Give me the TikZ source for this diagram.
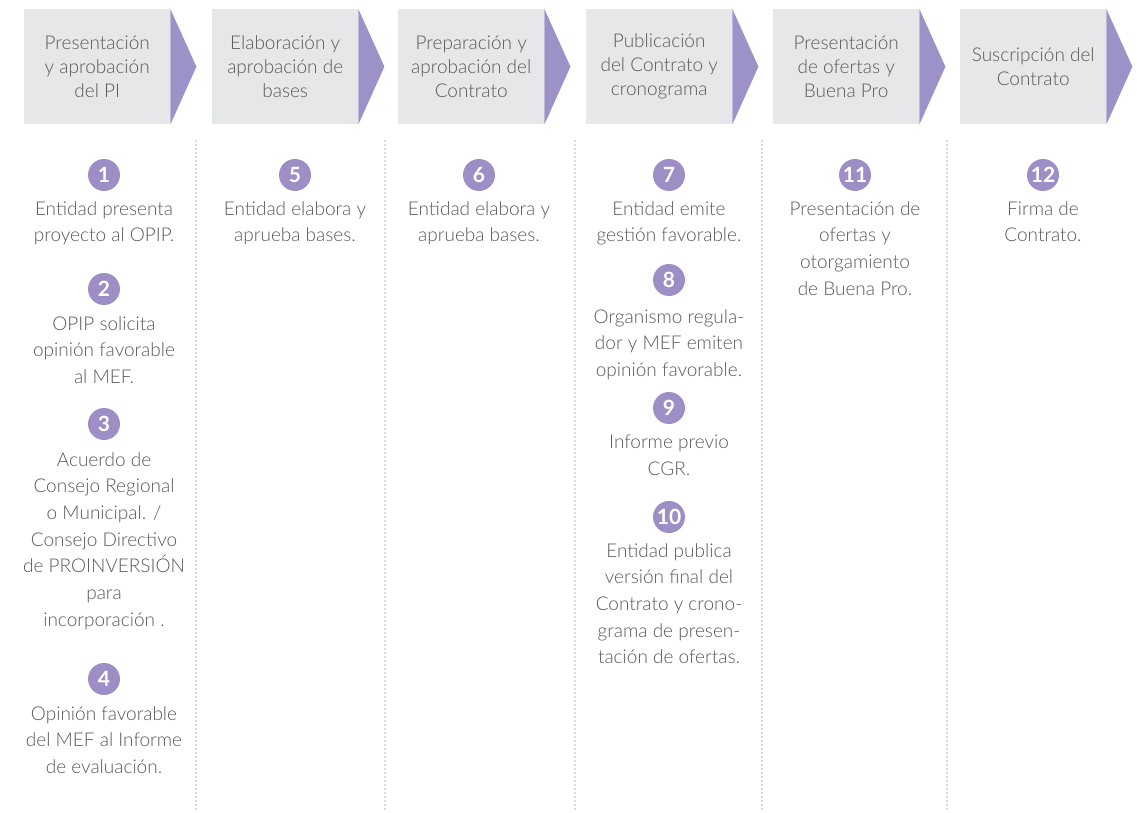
\documentclass[tikz,border=0pt]{standalone}
\usepackage{fontspec}
\setmainfont{Lato Light}[BoldFont=Lato Bold]
\definecolor{boxgray}{HTML}{E6E7E8}
\definecolor{arrowpurple}{HTML}{9D92C7}
\definecolor{numpurple}{HTML}{9D8FC6}
\definecolor{txtgray}{HTML}{58595B}
\definecolor{dotgray}{HTML}{5A5A5A}
\begin{document}
\begin{tikzpicture}[x=1pt,y=-1pt,
  hbox/.style={fill=boxgray, minimum width=146pt, minimum height=115pt, inner sep=0pt, anchor=north west,
    align=center, text=txtgray, font=\fontsize{19}{24}\selectfont},
  tri/.style={fill=arrowpurple},
  num/.style={circle, fill=numpurple, minimum size=32pt, inner sep=0pt, text=white,
    font=\fontsize{21}{21}\selectfont\bfseries},
  desc/.style={align=center, anchor=north, inner sep=0pt, text=txtgray,
    font=\fontsize{19}{26.7}\selectfont, execute at begin node={\rule{0pt}{18pt}}},
  sep/.style={draw=dotgray, line width=1.4pt, dash pattern=on 0pt off 4pt, line cap=round}]
\useasboundingbox (0,0) rectangle (1137,813);
% headers
\node[hbox] (h1) at (24,9) {Presentación\\y aprobación\\del PI};
\node[hbox] (h2) at (212,9) {Elaboración y\\aprobación de\\bases};
\node[hbox] (h3) at (398,9) {Preparación y\\aprobación del\\Contrato};
\node[hbox] (h4) at (586,9) {Publicación\\del Contrato y\\cronograma};
\node[hbox] (h5) at (773,9) {Presentación\\de ofertas y\\Buena Pro};
\node[hbox] (h6) at (960,9) {Suscripción del\\Contrato};
\foreach \h in {h1,h2,h3,h4,h5,h6}{
  \fill[tri] (\h.north east) -- ([xshift=26pt]\h.east) -- (\h.south east) -- cycle;
}
% separators
\foreach \x/\n in {196/a,385/b,575/c,762/d,947/e}{
  \coordinate (s\n1) at (\x,141);
  \coordinate (s\n2) at (\x,811);
  \draw[sep] (s\n1) -- (s\n2);
}
% column 1
\node[num] (n1) at (104,175) {1};
\node[desc] (t1) at (104,201) {Entidad presenta\\proyecto al OPIP.};
\node[num] (n2) at (104,289) {2};
\node[desc] (t2) at (104,316) {OPIP solicita\\opinión favorable\\al MEF.};
\node[num] (n3) at (104,424) {3};
\node[desc] (t3) at (104,452) {Acuerdo de\\Consejo Regional\\o Municipal. /\\Consejo Directivo\\de PROINVERSIÓN\\para\\incorporación .};
\node[num] (n4) at (104,679) {4};
\node[desc] (t4) at (104,706) {Opinión favorable\\del MEF al Informe\\de evaluación.};
% column 2
\node[num] (n5) at (295,175) {5};
\node[desc] (t5) at (295,201) {Entidad elabora y\\aprueba bases.};
% column 3
\node[num] (n6) at (479,175) {6};
\node[desc] (t6) at (479,201) {Entidad elabora y\\aprueba bases.};
% column 4
\node[num] (n7) at (669,175) {7};
\node[desc] (t7) at (669,201) {Entidad emite\\gestión favorable.};
\node[num] (n8) at (669,280) {8};
\node[desc] (t8) at (669,309) {Organismo regula-\\dor y MEF emiten\\opinión favorable.};
\node[num] (n9) at (669,408) {9};
\node[desc] (t9) at (669,435) {Informe previo\\CGR.};
\node[num] (n10) at (669,517) {10};
\node[desc] (t10) at (669,543) {Entidad publica\\versión final del\\Contrato y crono-\\grama de presen-\\tación de ofertas.};
% column 5
\node[num] (n11) at (855,175) {11};
\node[desc] (t11) at (855,201) {Presentación de\\ofertas y\\otorgamiento\\de Buena Pro.};
% column 6
\node[num] (n12) at (1043,175) {12};
\node[desc] (t12) at (1043,201) {Firma de\\Contrato.};
\end{tikzpicture}
\end{document}
